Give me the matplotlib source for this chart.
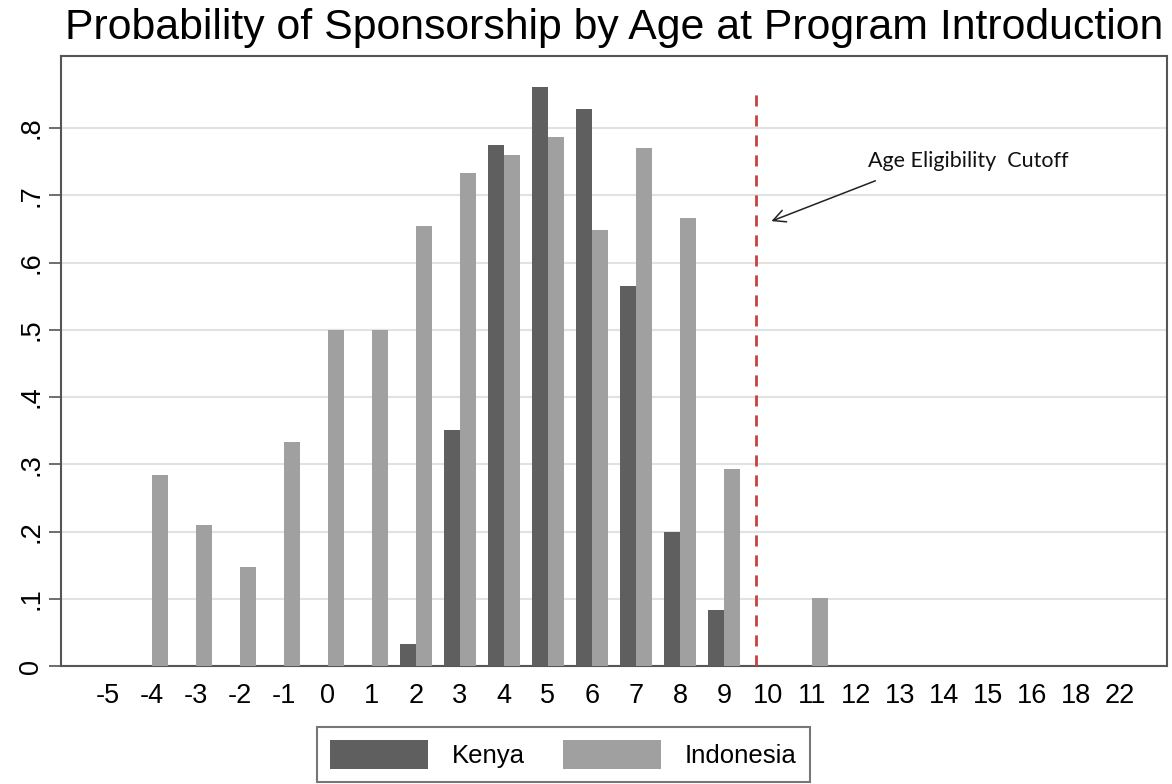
import numpy as np
import matplotlib.pyplot as plt

ages = ['-5', '-4', '-3', '-2', '-1', '0', '1', '2', '3', '4', '5', '6', '7', '8',
        '9', '10', '11', '12', '13', '14', '15', '16', '18', '22']
kenya = [0, 0, 0, 0, 0, 0, 0, 0.033, 0.351, 0.775, 0.861, 0.828, 0.565, 0.199,
         0.083, 0, 0, 0, 0, 0, 0, 0, 0, 0]
indonesia = [0, 0.284, 0.21, 0.147, 0.333, 0.5, 0.5, 0.654, 0.733, 0.76, 0.787,
             0.648, 0.77, 0.666, 0.293, 0, 0.101, 0, 0, 0, 0, 0, 0, 0]
yticks = [0, 0.1, 0.2, 0.3, 0.4, 0.5, 0.6, 0.7, 0.8]
ylabels = ['0', '.1', '.2', '.3', '.4', '.5', '.6', '.7', '.8']

plt.rcParams['font.family'] = ['Liberation Sans', 'DejaVu Sans']

fig = plt.figure(figsize=(11.72, 7.84), dpi=100)
ax = fig.add_axes([0.052, 0.1505, 0.9437, 0.778])

x = np.arange(len(ages))
w = 0.36
ax.bar(x - w / 2, kenya, w, color='#5f5f5f', label='Kenya', zorder=3)
ax.bar(x + w / 2, indonesia, w, color='#a0a0a0', label='Indonesia', zorder=3)

ax.set_xlim(-1.07, len(ages) - 1 + 1.07)
ax.set_ylim(0, 0.907)
ax.set_xticks(x)
ax.set_xticklabels(ages, fontsize=19.5)
ax.set_yticks(yticks)
ax.set_yticklabels(ylabels, fontsize=19.5, rotation=90, va='center')
ax.tick_params(axis='x', length=0, pad=12)
ax.tick_params(axis='y', length=9, width=1.2, color='#555555', pad=3)
ax.grid(axis='y', color='#e2e2e2', linewidth=1.5, zorder=0)
for s in ax.spines.values():
    s.set_color('#555555')
    s.set_linewidth(1.5)

# cutoff line and note
ax.plot([14.73, 14.73], [0, 0.853], color='#c9403f', linestyle=(0, (4, 3.2)),
        linewidth=2, zorder=4)
ax.annotate('', xy=(15.02, 0.66), xytext=(17.5, 0.723),
            arrowprops=dict(arrowstyle='->', color='#222222', lw=1.1,
                            mutation_scale=22))
ax.text(17.27, 0.751, 'Age Eligibility  Cutoff', fontsize=15.5,
        family=['Lato', 'DejaVu Sans'], va='center', ha='left', color='#111111')

ax.set_title('Probability of Sponsorship by Age at Program Introduction',
             fontsize=30.8, pad=12)

leg = fig.legend(loc='upper center', bbox_to_anchor=(0.4808, 0.0727), ncol=2,
                 fontsize=18.5, handlelength=3.8, handleheight=1.35,
                 columnspacing=1.5, handletextpad=0.93, fancybox=False,
                 borderpad=0.5, borderaxespad=0)
leg.get_frame().set_edgecolor('#555555')
leg.get_frame().set_linewidth(1.5)

fig.savefig('out.png', dpi=100)
